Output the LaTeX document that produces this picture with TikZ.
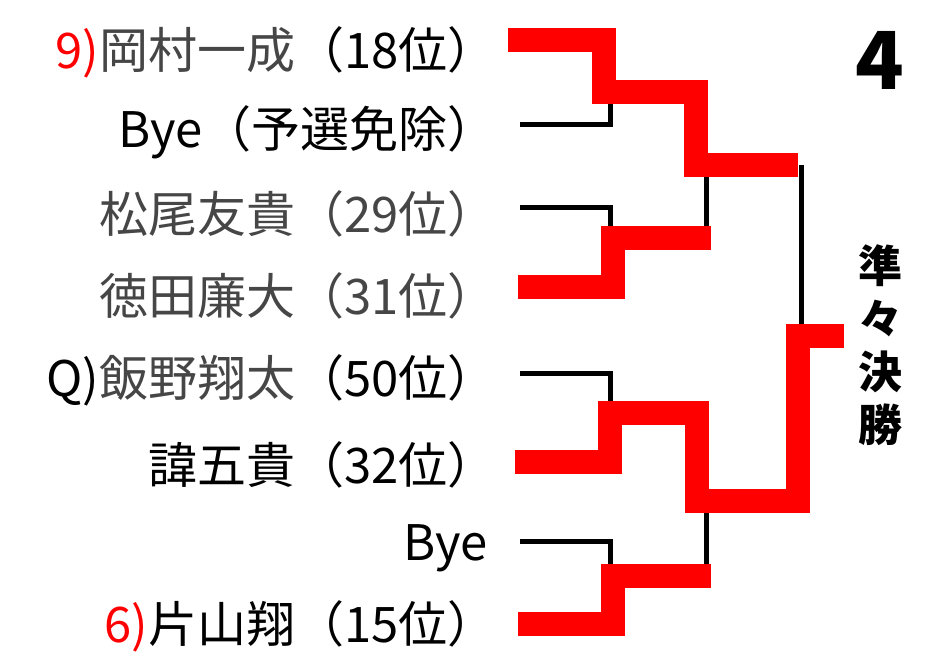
\documentclass[tikz,border=0pt]{standalone}
\usepackage{fontspec}
\setmainfont{Noto Sans CJK JP}
\definecolor{rd}{RGB}{255,0,0}
\definecolor{gr}{RGB}{70,70,70}
\begin{document}
\begin{tikzpicture}[x=1pt,y=-1pt,
  nm/.style={anchor=east,inner sep=0,font=\fontsize{49}{50}\selectfont},
  rl/.style={draw=rd,line width=24pt,line cap=rect,line join=miter},
  bl/.style={draw=black,line width=5pt,line join=miter}]
\useasboundingbox (0,0) rectangle (941,663);
\node[nm] (p1) at (497,52) {\textcolor{rd}{9)}\textcolor{gr}{岡村一成}（18位）};
\node[nm] (p2) at (497,132) {Bye（予選免除）};
\node[nm,text=gr] (p3) at (497,214) {松尾友貴（29位）};
\node[nm,text=gr] (p4) at (497,296) {徳田廉大（31位）};
\node[nm] (p5) at (497,380) {Q)\textcolor{gr}{飯野翔太}（50位）};
\node[nm] (p6) at (497,465) {諱五貴（32位）};
\node[nm] (p7) at (488,548) {Bye};
\node[nm] (p8) at (497,626) {\textcolor{rd}{6)}片山翔（15位）};
\node[anchor=center,inner sep=0,font=\fontsize{80}{80}\selectfont\bfseries] (n4) at (880,60) {4};
\node[anchor=center,inner sep=0,align=center,font=\fontsize{44}{53}\selectfont\bfseries] (qf) at (880,345) {準\\々\\決\\勝};
% black lines
\draw[bl] (520,125) -- (610,125) -- (610,100);
\draw[bl] (520,207) -- (610,207) -- (610,235);
\draw[bl] (706,170) -- (706,235);
\draw[bl] (801,165) -- (801,330);
\draw[bl] (520,373) -- (610,373) -- (610,410);
\draw[bl] (706,505) -- (706,570);
\draw[bl] (520,541) -- (610,541) -- (610,570);
% red lines
\draw[rl] (520,40) -- (604,40) -- (604,92) -- (696,92) -- (696,165) -- (786,165);
\draw[rl] (530,287) -- (613,287) -- (613,238) -- (699,238);
\draw[rl] (527,462) -- (610,462) -- (610,413) -- (697,413) -- (697,501) -- (798,501) -- (798,336) -- (832,336);
\draw[rl] (530,624) -- (613,624) -- (613,576) -- (699,576);
\end{tikzpicture}
\end{document}
